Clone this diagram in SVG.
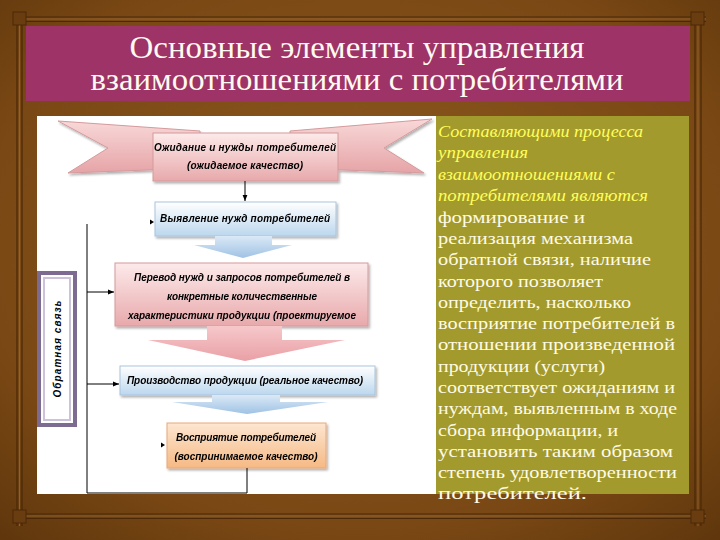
<svg xmlns="http://www.w3.org/2000/svg" width="720" height="540" viewBox="0 0 720 540">
<style>
.title{font-family:"Liberation Serif","DejaVu Serif",serif;font-size:31px;fill:#fffaf0;text-anchor:middle}
.body{font-family:"Liberation Serif","DejaVu Serif",serif;font-size:17.5px;fill:#fffbe6}
.yel{font-style:italic;fill:#ffff5a}
.nt{font-family:"Liberation Sans","DejaVu Sans",sans-serif;font-size:10px;font-weight:bold;font-style:italic;fill:#000;text-anchor:middle}
.frame{fill:none;stroke:#4a2808;stroke-width:1.2}
.frameh{fill:none;stroke:#9b6b33;stroke-width:0.8}
.conn{fill:none;stroke:#000;stroke-width:1}
</style>
<defs>
<radialGradient id="bg" cx="50%" cy="45%" r="75%">
<stop offset="0" stop-color="#8d5a20"/>
<stop offset="0.7" stop-color="#7a4814"/>
<stop offset="1" stop-color="#5e360c"/>
</radialGradient>
<linearGradient id="pink" x1="0" y1="0" x2="0" y2="1">
<stop offset="0" stop-color="#fdeaea"/>
<stop offset="1" stop-color="#e8a9ab"/>
</linearGradient>
<linearGradient id="pinkt" x1="0" y1="0" x2="0" y2="1">
<stop offset="0" stop-color="#f8d8d8"/>
<stop offset="1" stop-color="#e6a4a7"/>
</linearGradient>
<linearGradient id="blue" x1="0" y1="0" x2="0" y2="1">
<stop offset="0" stop-color="#ffffff"/>
<stop offset="1" stop-color="#bcd7ee"/>
</linearGradient>
<linearGradient id="orange" x1="0" y1="0" x2="0" y2="1">
<stop offset="0" stop-color="#fde6d2"/>
<stop offset="1" stop-color="#f6b984"/>
</linearGradient>
<linearGradient id="barrow" x1="0" y1="0" x2="0" y2="1">
<stop offset="0" stop-color="#dbe9f6"/>
<stop offset="1" stop-color="#9fc2e4"/>
</linearGradient>
<linearGradient id="parrow" x1="0" y1="0" x2="0" y2="1">
<stop offset="0" stop-color="#f6c8ca"/>
<stop offset="1" stop-color="#e9a0a6"/>
</linearGradient>
<marker id="ah" viewBox="0 0 10 10" refX="10" refY="5" markerWidth="6" markerHeight="6" orient="auto">
<path d="M0,1 L10,5 L0,9 Z" fill="#000"/>
</marker>
<filter id="sh" x="-10%" y="-10%" width="130%" height="140%">
<feDropShadow dx="1.5" dy="2" stdDeviation="1.2" flood-color="#000" flood-opacity="0.3"/>
</filter>
</defs>

<!-- background -->
<rect x="0" y="0" width="720" height="540" fill="url(#bg)"/>
<g id="frame">
<path class="frame" d="M14,17 H706 M14,21.5 H706 M14,514 H706 M14,518.5 H706 M17,14 V526 M22,14 V526 M695,14 V526 M701,14 V526"/>
<path class="frameh" d="M14,19 H706 M14,516 H706 M19.5,14 V526 M698,14 V526"/>
<rect x="13" y="12" width="13" height="13" fill="#6a3d10" stroke="#4a2808"/>
<rect x="691" y="12" width="13" height="13" fill="#6a3d10" stroke="#4a2808"/>
<rect x="13" y="510" width="13" height="13" fill="#6a3d10" stroke="#4a2808"/>
<rect x="691" y="510" width="13" height="13" fill="#6a3d10" stroke="#4a2808"/>
</g>

<!-- title -->
<g id="title">
<rect x="26" y="26" width="664" height="75" fill="#9d3367"/>
<text class="title" x="357" y="58" textLength="455" lengthAdjust="spacingAndGlyphs">Основные элементы управления</text>
<text class="title" x="357" y="90" textLength="533" lengthAdjust="spacingAndGlyphs">взаимоотношениями с потребителями</text>
</g>

<!-- panels -->
<rect x="37" y="116" width="399" height="378" fill="#ffffff"/>
<rect x="436" y="116" width="253" height="378" fill="#a39a2d"/>

<g id="side-text">
<text class="body yel" x="438" y="137" textLength="205" lengthAdjust="spacingAndGlyphs">Составляющими процесса</text>
<text class="body yel" x="438" y="158" textLength="90" lengthAdjust="spacingAndGlyphs">управления</text>
<text class="body yel" x="438" y="180" textLength="177" lengthAdjust="spacingAndGlyphs">взаимоотношениями с</text>
<text class="body yel" x="438" y="201" textLength="210" lengthAdjust="spacingAndGlyphs">потребителями являются</text>
<text class="body" x="438" y="223" textLength="147" lengthAdjust="spacingAndGlyphs">формирование и</text>
<text class="body" x="438" y="244" textLength="195" lengthAdjust="spacingAndGlyphs">реализация механизма</text>
<text class="body" x="438" y="265" textLength="213" lengthAdjust="spacingAndGlyphs">обратной связи, наличие</text>
<text class="body" x="438" y="287" textLength="165" lengthAdjust="spacingAndGlyphs">которого позволяет</text>
<text class="body" x="438" y="308" textLength="193" lengthAdjust="spacingAndGlyphs">определить, насколько</text>
<text class="body" x="438" y="329" textLength="237" lengthAdjust="spacingAndGlyphs">восприятие потребителей в</text>
<text class="body" x="438" y="350" textLength="237" lengthAdjust="spacingAndGlyphs">отношении произведенной</text>
<text class="body" x="438" y="372" textLength="167" lengthAdjust="spacingAndGlyphs">продукции (услуги)</text>
<text class="body" x="438" y="393" textLength="237" lengthAdjust="spacingAndGlyphs">соответствует ожиданиям и</text>
<text class="body" x="438" y="414" textLength="239" lengthAdjust="spacingAndGlyphs">нуждам, выявленным в ходе</text>
<text class="body" x="438" y="436" textLength="180" lengthAdjust="spacingAndGlyphs">сбора информации, и</text>
<text class="body" x="438" y="457" textLength="235" lengthAdjust="spacingAndGlyphs">установить таким образом</text>
<text class="body" x="438" y="478" textLength="239" lengthAdjust="spacingAndGlyphs">степень удовлетворенности</text>
<text class="body" x="438" y="499" textLength="149" lengthAdjust="spacingAndGlyphs">потребителей.</text>
</g>

<!-- feedback box -->
<g id="feedback">
<rect x="39" y="273" width="36" height="152" fill="#ffffff" stroke="#7d6b91" stroke-width="4"/>
<rect x="44" y="278" width="26" height="142" fill="none" stroke="#cdc1dc" stroke-width="2"/>
<text class="nt" x="0" y="0" font-size="11.5" transform="translate(61,349) rotate(-90)" textLength="97">Обратная связь</text>
</g>

<!-- node 1: ribbon -->
<g id="n1" filter="url(#sh)">
<path d="M58,121 L200,131 L200,168 L68,173 L108,148 Z" fill="url(#pinkt)" stroke="#d49a9c" stroke-width="1"/>
<path d="M432,119 L290,131 L290,168 L424,173 L384,148 Z" fill="url(#pinkt)" stroke="#d49a9c" stroke-width="1"/>
<rect x="153" y="133" width="185" height="48" fill="url(#pink)" stroke="#d49a9c" stroke-width="1"/>
<text class="nt" x="245" y="151" textLength="182">Ожидание и нужды потребителей</text>
<text class="nt" x="245" y="169" textLength="116">(ожидаемое качество)</text>
</g>

<!-- node 2 -->
<g id="n2" filter="url(#sh)">
<rect x="155" y="202" width="181" height="34" fill="url(#blue)" stroke="#a9c4dd" stroke-width="1"/>
<text class="nt" x="245" y="222" textLength="170">Выявление нужд потребителей</text>
</g>
<path id="a1" d="M215,236 L272,236 L272,245 L292,245 L243,258 L194,245 L215,245 Z" fill="url(#barrow)"/>

<!-- node 3 -->
<g id="n3" filter="url(#sh)">
<rect x="115" y="263" width="253" height="63" fill="url(#pink)" stroke="#d49a9c" stroke-width="1"/>
<text class="nt" x="242" y="281" textLength="216">Перевод нужд и запросов потребителей в</text>
<text class="nt" x="242" y="300" textLength="150">конкретные количественные</text>
<text class="nt" x="242" y="319" textLength="228">характеристики продукции (проектируемое</text>
</g>
<path id="a2" d="M207,326 L282,326 L282,340 L345,340 L245,361 L148,340 L207,340 Z" fill="url(#parrow)"/>

<!-- node 4 -->
<g id="n4" filter="url(#sh)">
<rect x="120" y="366" width="255" height="29" fill="url(#blue)" stroke="#a9c4dd" stroke-width="1"/>
<text class="nt" x="245" y="384" textLength="236">Производство продукции (реальное качество)</text>
</g>
<path id="a3" d="M212,395 L280,395 L280,402 L328,402 L247,414 L172,402 L212,402 Z" fill="url(#barrow)"/>

<!-- node 5 -->
<g id="n5" filter="url(#sh)">
<rect x="167" y="423" width="159" height="45" fill="url(#orange)" stroke="#eaa878" stroke-width="1"/>
<text class="nt" x="246" y="441" textLength="140">Восприятие потребителей</text>
<text class="nt" x="246" y="460" textLength="143">(воспринимаемое качество)</text>
</g>

<!-- connectors -->
<g id="connectors">
<path class="conn" d="M245,181 V201" marker-end="url(#ah)"/>
<path class="conn" d="M247,468 V493 H87 V224"/>
<path class="conn" d="M87,292 H114" marker-end="url(#ah)"/>
<path class="conn" d="M87,384 H119" marker-end="url(#ah)"/>
<path d="M150,219.5 L154,222 L150,224.5 Z" fill="#000"/>
<path d="M161,442.5 L165,445 L161,447.5 Z" fill="#000"/>
</g>
</svg>
